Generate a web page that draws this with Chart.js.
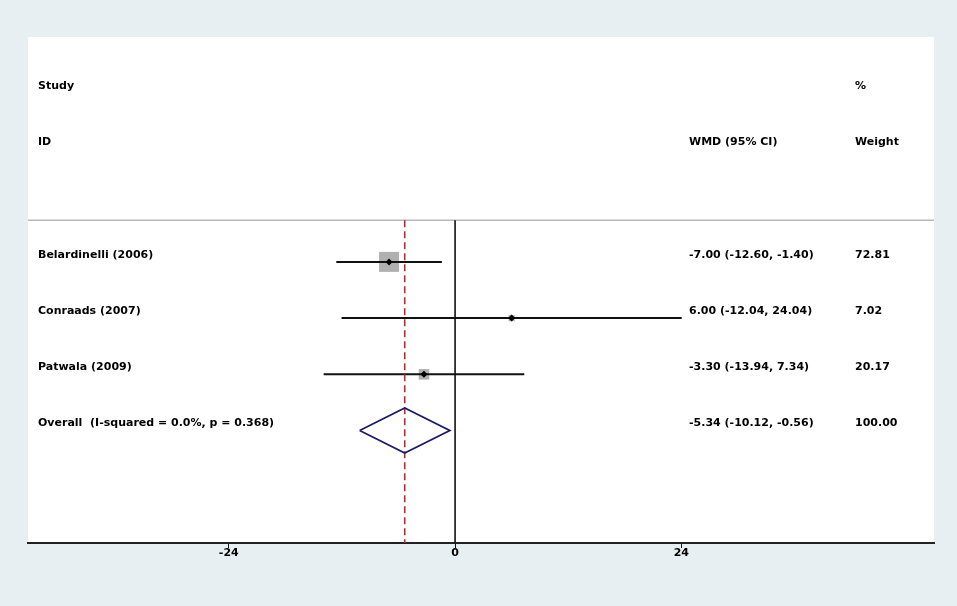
<!DOCTYPE html>
<html>
<head>
<meta charset="utf-8">
<title>Forest plot - WMD</title>
<script src="https://cdn.jsdelivr.net/npm/chart.js@4/dist/chart.umd.min.js"></script>
<style>
  html, body { margin: 0; padding: 0; background: #e8eff2; }
  #wrap { width: 957px; height: 606px; position: relative; }
</style>
</head>
<body>
<div id="wrap"><canvas id="forest"></canvas></div>
<script>
// Study data
const studies = ['Belardinelli (2006)', 'Conraads (2007)', 'Patwala (2009)'];
const estimates = [-7.00, 6.00, -3.30];
const lower = [-12.60, -12.04, -13.94];
const upper = [-1.40, 24.04, 7.34];
const weights = [72.81, 7.02, 20.17];

// Pooled result
const overallLabel = 'Overall  (I-squared = 0.0%, p = 0.368)';
const overallEst = -5.34;
const overallLower = -10.12;
const overallUpper = -0.56;
const overallWeight = 100.00;

// Axis
const xTicks = [-24, 0, 24];

// Layout (row units on the y scale)
const X_MIN = -45.3, X_MAX = 50.8;
const Y_MAX = 9.0;
const SEP_ROW = 3.26;
const firstRow = 4;
const overallRow = firstRow + studies.length;
const diamondHalf = 0.4;
const maxBox = 20; // px side of the biggest box

const font = 'bold 11px "DejaVu Sans"';

function fmt(v) { return v.toFixed(2); }

const datasets = [];

// grey weight boxes (drawn first)
datasets.push({
    data: estimates.map((e, i) => ({ x: e, y: firstRow + i })),
    pointStyle: 'rect',
    pointRadius: weights.map(w => maxBox * Math.sqrt(w / Math.max(...weights)) / Math.SQRT2),
    backgroundColor: '#b0b0b0',
    borderWidth: 0,
    order: 10
});

// confidence interval lines
studies.forEach((s, i) => {
    datasets.push({
        data: [{ x: lower[i], y: firstRow + i }, { x: upper[i], y: firstRow + i }],
        showLine: true,
        borderColor: '#111',
        borderWidth: 2,
        pointRadius: 0,
        order: 5
    });
});

// separator under the header
datasets.push({
    data: [{ x: X_MIN, y: SEP_ROW }, { x: X_MAX, y: SEP_ROW }],
    showLine: true,
    borderColor: '#b8b8b8',
    borderWidth: 1.5,
    pointRadius: 0,
    order: 6
});

// no-effect line
datasets.push({
    data: [{ x: 0, y: SEP_ROW }, { x: 0, y: Y_MAX }],
    showLine: true,
    borderColor: '#111',
    borderWidth: 1.6,
    pointRadius: 0,
    order: 4
});

// overall effect line (dashed)
datasets.push({
    data: [{ x: overallEst, y: SEP_ROW }, { x: overallEst, y: Y_MAX }],
    showLine: true,
    borderColor: '#a8323a',
    borderWidth: 1.6,
    borderDash: [7, 4],
    pointRadius: 0,
    order: 3
});

// overall diamond
datasets.push({
    data: [
        { x: overallLower, y: overallRow },
        { x: overallEst, y: overallRow - diamondHalf },
        { x: overallUpper, y: overallRow },
        { x: overallEst, y: overallRow + diamondHalf },
        { x: overallLower, y: overallRow }
    ],
    showLine: true,
    borderColor: '#1c1c66',
    borderWidth: 1.8,
    pointRadius: 0,
    order: 2
});

// point estimate markers
datasets.push({
    data: estimates.map((e, i) => ({ x: e, y: firstRow + i })),
    pointStyle: 'rectRot',
    pointRadius: 3.5,
    backgroundColor: '#000',
    borderWidth: 0,
    order: 1
});

// white plotting panel
const panelBg = {
    id: 'panelBg',
    beforeDraw(chart) {
        const { ctx, chartArea: a } = chart;
        ctx.save();
        ctx.fillStyle = '#ffffff';
        ctx.fillRect(a.left, a.top, a.right - a.left, a.bottom - a.top);
        ctx.restore();
    }
};

// text columns
const textCols = {
    id: 'textCols',
    afterDatasetsDraw(chart) {
        const { ctx, chartArea: a } = chart;
        const yS = chart.scales.y;
        const colStudy = a.left + 10;
        const colWmd = a.left + 661;
        const colWeight = a.left + 827;
        const yRow = r => yS.getPixelForValue(r) - 7;

        ctx.save();
        ctx.font = font;
        ctx.fillStyle = '#000';
        ctx.textBaseline = 'middle';
        ctx.textAlign = 'left';

        ctx.fillText('Study', colStudy, yRow(1));
        ctx.fillText('%', colWeight, yRow(1));
        ctx.fillText('ID', colStudy, yRow(2));
        ctx.fillText('WMD (95% CI)', colWmd, yRow(2));
        ctx.fillText('Weight', colWeight, yRow(2));

        studies.forEach((s, i) => {
            const y = yRow(firstRow + i);
            ctx.fillText(s, colStudy, y);
            ctx.fillText(fmt(estimates[i]) + ' (' + fmt(lower[i]) + ', ' + fmt(upper[i]) + ')', colWmd, y);
            ctx.fillText(fmt(weights[i]), colWeight, y);
        });

        const yo = yRow(overallRow);
        ctx.fillText(overallLabel, colStudy, yo);
        ctx.fillText(fmt(overallEst) + ' (' + fmt(overallLower) + ', ' + fmt(overallUpper) + ')', colWmd, yo);
        ctx.fillText(fmt(overallWeight), colWeight, yo);
        ctx.restore();
    }
};

new Chart(document.getElementById('forest'), {
    type: 'scatter',
    data: { datasets: datasets },
    options: {
        responsive: true,
        maintainAspectRatio: false,
        animation: false,
        events: [],
        layout: { padding: { left: 28, right: 23, top: 37, bottom: 0 } },
        plugins: {
            legend: { display: false },
            tooltip: { enabled: false }
        },
        scales: {
            x: {
                type: 'linear',
                min: X_MIN,
                max: X_MAX,
                afterBuildTicks(scale) {
                    scale.ticks = xTicks.map(v => ({ value: v }));
                },
                afterFit(scale) {
                    scale.height = 63;
                },
                grid: {
                    drawOnChartArea: false,
                    drawTicks: true,
                    tickLength: 5,
                    color: '#111',
                    lineWidth: 1
                },
                border: { display: true, color: '#222', width: 2 },
                ticks: {
                    color: '#000',
                    font: { family: 'DejaVu Sans', size: 11, weight: 'bold' },
                    padding: -1,
                    maxRotation: 0,
                    autoSkip: false,
                    callback: v => String(v)
                }
            },
            y: {
                type: 'linear',
                display: false,
                reverse: true,
                min: 0,
                max: Y_MAX
            }
        }
    },
    plugins: [panelBg, textCols]
});
</script>
</body>
</html>
